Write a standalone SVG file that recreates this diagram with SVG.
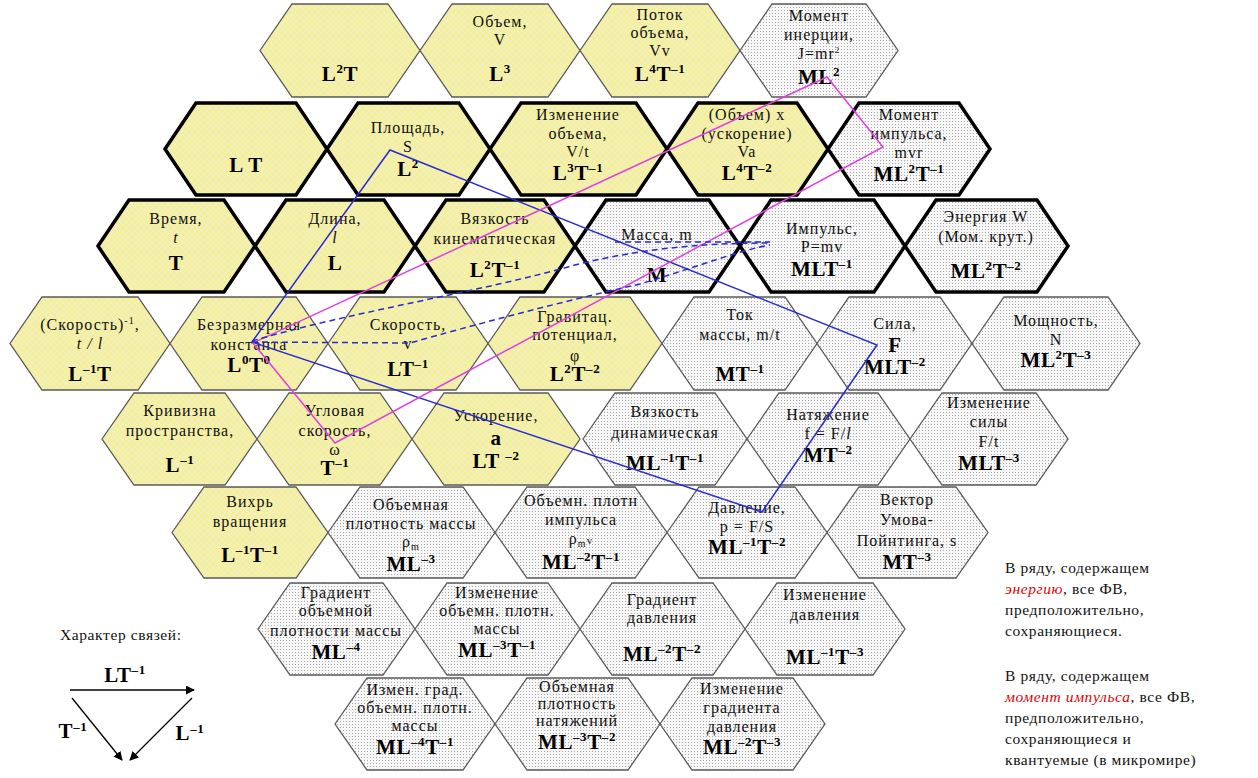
<svg xmlns="http://www.w3.org/2000/svg" width="1258" height="778" viewBox="0 0 1258 778">
<style>
.y{fill:url(#hatch);stroke:#5a5a5a;stroke-width:1.3}
.d{fill:url(#dots);stroke:#5a5a5a;stroke-width:1.3}
.yk{fill:url(#hatch);stroke:#000;stroke-width:3.5}
.dk{fill:url(#dots);stroke:#000;stroke-width:3.5}
.t{font-family:"Liberation Serif",serif;font-size:16px;text-anchor:middle;fill:#111;letter-spacing:1px}
.i{font-style:italic}
.f{font-family:"Liberation Serif",serif;font-weight:bold;font-size:21px;text-anchor:middle;fill:#000;letter-spacing:0.6px}
.s{font-size:13px}
.r{font-family:"Liberation Serif",serif;font-size:15.5px;fill:#111;letter-spacing:0.6px}
.red{fill:#e00000;font-style:italic}
.bl{fill:none;stroke:#2a2ad0;stroke-width:1.5}
.bd{fill:none;stroke:#2a2ad0;stroke-width:1.5;stroke-dasharray:6 4}
.mg{fill:none;stroke:#e040e0;stroke-width:1.5}
.ar{fill:none;stroke:#000;stroke-width:1.3;marker-end:url(#ah)}
</style>
<defs>
<pattern id="hatch" width="6" height="6" patternUnits="userSpaceOnUse">
<rect width="6" height="6" fill="#f6f18e"/>
<path d="M0,0 L6,6 M6,0 L0,6" stroke="#ececdf" stroke-width="1"/>
</pattern>
<pattern id="dots" width="3" height="3" patternUnits="userSpaceOnUse">
<rect width="3" height="3" fill="#f7f7f7"/>
<rect x="1" y="1" width="1" height="1" fill="#a8a8a8"/>
</pattern>
<marker id="ah" viewBox="0 0 10 10" refX="9" refY="5" markerWidth="9" markerHeight="9" orient="auto" markerUnits="userSpaceOnUse">
<path d="M0,0 L10,5 L0,10 Z" fill="#000"/>
</marker>
</defs>
<rect width="1258" height="778" fill="#fff"/>

<!-- Row 1 -->
<g id="h-L2T"><polygon class="y" points="260,50.5 292,4 388,4 420,50.5 388,97 292,97"/>
<text class="f" x="340" y="81">L<tspan class="s" dy="-8">2</tspan><tspan dy="8">T</tspan></text></g>
<g id="h-volume"><polygon class="y" points="420,50.5 452,4 548,4 580,50.5 548,97 452,97"/>
<text class="t" x="500" y="27">Объем,</text><text class="t" x="500" y="45">V</text>
<text class="f" x="500" y="81">L<tspan class="s" dy="-8">3</tspan></text></g>
<g id="h-flow"><polygon class="y" points="580,50.5 612,4 708,4 740,50.5 708,97 612,97"/>
<text class="t" x="660" y="20">Поток</text><text class="t" x="660" y="38">объема,</text><text class="t" x="660" y="56">Vv</text>
<text class="f" x="660" y="81">L<tspan class="s" dy="-8">4</tspan><tspan dy="8">T</tspan><tspan class="s" dy="-8">–1</tspan></text></g>
<g id="h-inertia"><polygon class="d" points="740,50.5 772,4 866,4 898,50.5 866,97 772,97"/>
<text class="t" x="819" y="21">Момент</text><text class="t" x="819" y="40">инерции,</text>
<text class="t" x="819" y="59">J=mr<tspan font-size="9" dy="-6">2</tspan></text>
<text class="f" x="819" y="84">ML<tspan class="s" dy="-8">2</tspan></text></g>

<!-- Row 2 -->
<g id="h-LT"><polygon class="yk" points="165,149 196,103 296,103 327,149 296,195 196,195"/>
<text class="f" x="246" y="172">L T</text></g>
<g id="h-area"><polygon class="yk" points="327,149 358,103 459,103 490,149 459,195 358,195"/>
<text class="t" x="408" y="133">Площадь,</text><text class="t" x="408" y="152">S</text>
<text class="f" x="408" y="176">L<tspan class="s" dy="-8">2</tspan></text></g>
<g id="h-dvol"><polygon class="yk" points="490,149 521,103 636,103 667,149 636,195 521,195"/>
<text class="t" x="578" y="120">Изменение</text><text class="t" x="578" y="139">объема,</text><text class="t" x="578" y="157">V/t</text>
<text class="f" x="578" y="180">L<tspan class="s" dy="-8">3</tspan><tspan dy="8">T</tspan><tspan class="s" dy="-8">–1</tspan></text></g>
<g id="h-va"><polygon class="yk" points="667,149 698,103 797,103 828,149 797,195 698,195"/>
<text class="t" x="747" y="120">(Объем) x</text><text class="t" x="747" y="139">(ускорение)</text><text class="t" x="747" y="157">Va</text>
<text class="f" x="747" y="180">L<tspan class="s" dy="-8">4</tspan><tspan dy="8">T</tspan><tspan class="s" dy="-8">–2</tspan></text></g>
<g id="h-angmom"><polygon class="dk" points="828,149 859,103 959,103 990,149 959,195 859,195"/>
<text class="t" x="909" y="120">Момент</text><text class="t" x="909" y="139">импульса,</text><text class="t" x="909" y="158">mvr</text>
<text class="f" x="909" y="181">ML<tspan class="s" dy="-8">2</tspan><tspan dy="8">T</tspan><tspan class="s" dy="-8">–1</tspan></text></g>

<!-- Row 3 -->
<g id="h-time"><polygon class="yk" points="98,246 129,200 224,200 255,246 224,292 129,292"/>
<text class="t" x="176" y="224">Время,</text><text class="t i" x="176" y="243">t</text>
<text class="f" x="176" y="270">T</text></g>
<g id="h-length"><polygon class="yk" points="255,246 286,200 384,200 415,246 384,292 286,292"/>
<text class="t" x="335" y="224">Длина,</text><text class="t i" x="335" y="243">l</text>
<text class="f" x="335" y="270">L</text></g>
<g id="h-kinvisc"><polygon class="yk" points="415,246 446,200 544,200 575,246 544,292 446,292"/>
<text class="t" x="495" y="224">Вязкость</text><text class="t" x="495" y="244">кинематическая</text>
<text class="f" x="495" y="277">L<tspan class="s" dy="-8">2</tspan><tspan dy="8">T</tspan><tspan class="s" dy="-8">–1</tspan></text></g>
<g id="h-mass"><polygon class="dk" points="575,246 606,200 709,200 740,246 709,292 606,292"/>
<text class="t" x="657" y="240">Масса, m</text>
<text class="f" x="657" y="282">M</text></g>
<g id="h-momentum"><polygon class="dk" points="740,246 771,200 874,200 905,246 874,292 771,292"/>
<text class="t" x="822" y="234">Импульс,</text><text class="t" x="822" y="252">P=mv</text>
<text class="f" x="822" y="276">MLT<tspan class="s" dy="-8">–1</tspan></text></g>
<g id="h-energy"><polygon class="dk" points="905,246 936,200 1037,200 1068,246 1037,292 936,292"/>
<text class="t" x="986" y="222">Энергия W</text><text class="t" x="986" y="242">(Мом. крут.)</text>
<text class="f" x="986" y="278">ML<tspan class="s" dy="-8">2</tspan><tspan dy="8">T</tspan><tspan class="s" dy="-8">–2</tspan></text></g>

<!-- Row 4 -->
<g id="h-invspeed"><polygon class="y" points="10,343.5 42,297 138,297 170,343.5 138,390 42,390"/>
<text class="t" x="90" y="330">(Скорость)<tspan font-size="10" dy="-6">-1</tspan><tspan dy="6">,</tspan></text>
<text class="t i" x="90" y="349">t / l</text>
<text class="f" x="90" y="381">L<tspan class="s" dy="-8">–1</tspan><tspan dy="8">T</tspan></text></g>
<g id="h-dimless"><polygon class="y" points="170,343.5 202,297 296,297 328,343.5 296,390 202,390"/>
<text class="t" x="249" y="330">Безразмерная</text><text class="t" x="249" y="350">константа</text>
<text class="f" x="249" y="372">L<tspan class="s" dy="-8">0</tspan><tspan dy="8">T</tspan><tspan class="s" dy="-8">0</tspan></text></g>
<g id="h-speed"><polygon class="y" points="328,343.5 360,297 456,297 488,343.5 456,390 360,390"/>
<text class="t" x="408" y="330">Скорость,</text><text class="t" x="408" y="349">v</text>
<text class="f" x="408" y="376">LT<tspan class="s" dy="-8">–1</tspan></text></g>
<g id="h-gravpot"><polygon class="y" points="488,343.5 520,297 630,297 662,343.5 630,390 520,390"/>
<text class="t" x="575" y="322">Гравитац.</text><text class="t" x="575" y="340">потенциал,</text><text class="t" x="575" y="361">φ</text>
<text class="f" x="575" y="381">L<tspan class="s" dy="-8">2</tspan><tspan dy="8">T</tspan><tspan class="s" dy="-8">–2</tspan></text></g>
<g id="h-massflow"><polygon class="d" points="662,343.5 694,297 785,297 817,343.5 785,390 694,390"/>
<text class="t" x="740" y="320">Ток</text><text class="t" x="740" y="340">массы, m/t</text>
<text class="f" x="740" y="381">MT<tspan class="s" dy="-8">–1</tspan></text></g>
<g id="h-force"><polygon class="d" points="817,343.5 849,297 940,297 972,343.5 940,390 849,390"/>
<text class="t" x="895" y="329">Сила,</text><text class="f" x="895" y="352" font-size="19">F</text>
<text class="f" x="895" y="374">MLT<tspan class="s" dy="-8">–2</tspan></text></g>
<g id="h-power"><polygon class="d" points="972,343.5 1004,297 1108,297 1140,343.5 1108,390 1004,390"/>
<text class="t" x="1056" y="326">Мощность,</text><text class="t" x="1056" y="345">N</text>
<text class="f" x="1056" y="367">ML<tspan class="s" dy="-8">2</tspan><tspan dy="8">T</tspan><tspan class="s" dy="-8">–3</tspan></text></g>

<!-- Row 5 -->
<g id="h-curv"><polygon class="y" points="102,439 134,393 225,393 257,439 225,485 134,485"/>
<text class="t" x="180" y="416">Кривизна</text><text class="t" x="180" y="436">пространства,</text>
<text class="f" x="180" y="472">L<tspan class="s" dy="-8">–1</tspan></text></g>
<g id="h-angvel"><polygon class="y" points="257,439 289,393 380,393 412,439 380,485 289,485"/>
<text class="t" x="335" y="416">Угловая</text><text class="t" x="335" y="436">скорость,</text><text class="t" x="335" y="455">ω</text>
<text class="f" x="335" y="475">T<tspan class="s" dy="-8">–1</tspan></text></g>
<g id="h-accel"><polygon class="y" points="412,439 444,393 548,393 580,439 548,485 444,485"/>
<text class="t" x="496" y="421">Ускорение,</text><text class="f" x="496" y="445" font-size="18">a</text>
<text class="f" x="496" y="468">LT <tspan class="s" dy="-8">–2</tspan></text></g>
<g id="h-dynvisc"><polygon class="d" points="583,439 615,393 715,393 747,439 715,485 615,485"/>
<text class="t" x="665" y="417">Вязкость</text><text class="t" x="665" y="438">динамическая</text>
<text class="f" x="665" y="470">ML<tspan class="s" dy="-8">–1</tspan><tspan dy="8">T</tspan><tspan class="s" dy="-8">–1</tspan></text></g>
<g id="h-tension"><polygon class="d" points="747,439 779,393 878,393 910,439 878,485 779,485"/>
<text class="t" x="828" y="420">Натяжение</text><text class="t" x="828" y="439">f = F/<tspan class="i">l</tspan></text>
<text class="f" x="828" y="462">MT<tspan class="s" dy="-8">–2</tspan></text></g>
<g id="h-dforce"><polygon class="d" points="910,439 942,393 1036,393 1068,439 1036,485 942,485"/>
<text class="t" x="989" y="408">Изменение</text><text class="t" x="989" y="427">силы</text><text class="t" x="989" y="447">F/t</text>
<text class="f" x="989" y="470">MLT<tspan class="s" dy="-8">–3</tspan></text></g>

<!-- Row 6 -->
<g id="h-vortex"><polygon class="y" points="172,532.5 204,487 296,487 328,532.5 296,578 204,578"/>
<text class="t" x="250" y="507">Вихрь</text><text class="t" x="250" y="527">вращения</text>
<text class="f" x="250" y="562">L<tspan class="s" dy="-8">–1</tspan><tspan dy="8">T</tspan><tspan class="s" dy="-8">–1</tspan></text></g>
<g id="h-density"><polygon class="d" points="328,532.5 360,487 463,487 495,532.5 463,578 360,578"/>
<text class="t" x="411" y="510">Объемная</text><text class="t" x="411" y="529">плотность массы</text>
<text class="t" x="411" y="547">ρ<tspan font-size="10" dy="3">m</tspan></text>
<text class="f" x="411" y="571">ML<tspan class="s" dy="-8">–3</tspan></text></g>
<g id="h-momdens"><polygon class="d" points="495,532.5 527,487 635,487 667,532.5 635,578 527,578"/>
<text class="t" x="581" y="506">Объемн. плотн</text><text class="t" x="581" y="525">импульса</text>
<text class="t" x="581" y="544">ρ<tspan font-size="10" dy="3">m</tspan><tspan font-size="11" dy="-3">v</tspan></text>
<text class="f" x="581" y="569">ML<tspan class="s" dy="-8">–2</tspan><tspan dy="8">T</tspan><tspan class="s" dy="-8">–1</tspan></text></g>
<g id="h-pressure"><polygon class="d" points="667,532.5 699,487 795,487 827,532.5 795,578 699,578"/>
<text class="t" x="747" y="513">Давление,</text><text class="t" x="747" y="532">p = F/S</text>
<text class="f" x="747" y="554">ML<tspan class="s" dy="-8">–1</tspan><tspan dy="8">T</tspan><tspan class="s" dy="-8">–2</tspan></text></g>
<g id="h-umov"><polygon class="d" points="827,532.5 859,487 956,487 988,532.5 956,578 859,578"/>
<text class="t" x="907" y="505">Вектор</text><text class="t" x="907" y="525">Умова-</text><text class="t" x="907" y="546">Пойнтинга, s</text>
<text class="f" x="907" y="569">MT<tspan class="s" dy="-8">–3</tspan></text></g>

<!-- Row 7 -->
<g id="h-graddens"><polygon class="d" points="258,629 290,583 383,583 415,629 383,675 290,675"/>
<text class="t" x="336" y="598">Градиент</text><text class="t" x="336" y="616">объемной</text><text class="t" x="336" y="636">плотности массы</text>
<text class="f" x="336" y="659">ML<tspan class="s" dy="-8">–4</tspan></text></g>
<g id="h-ddens"><polygon class="d" points="415,629 447,583 548,583 580,629 548,675 447,675"/>
<text class="t" x="497" y="598">Изменение</text><text class="t" x="497" y="616">объемн. плотн.</text><text class="t" x="497" y="634">массы</text>
<text class="f" x="497" y="657">ML<tspan class="s" dy="-8">–3</tspan><tspan dy="8">T</tspan><tspan class="s" dy="-8">–1</tspan></text></g>
<g id="h-gradp"><polygon class="d" points="580,629 612,583 713,583 745,629 713,675 612,675"/>
<text class="t" x="662" y="605">Градиент</text><text class="t" x="662" y="623">давления</text>
<text class="f" x="662" y="661">ML<tspan class="s" dy="-8">–2</tspan><tspan dy="8">T</tspan><tspan class="s" dy="-8">–2</tspan></text></g>
<g id="h-dp"><polygon class="d" points="745,629 777,583 873,583 905,629 873,675 777,675"/>
<text class="t" x="825" y="600">Изменение</text><text class="t" x="825" y="620">давления</text>
<text class="f" x="825" y="664">ML<tspan class="s" dy="-8">–1</tspan><tspan dy="8">T</tspan><tspan class="s" dy="-8">–3</tspan></text></g>

<!-- Row 8 -->
<g id="h-dgraddens"><polygon class="d" points="335,724 367,678 463,678 495,724 463,770 367,770"/>
<text class="t" x="415" y="695">Измен. град.</text><text class="t" x="415" y="713">объемн. плотн.</text><text class="t" x="415" y="731">массы</text>
<text class="f" x="415" y="754">ML<tspan class="s" dy="-8">–4</tspan><tspan dy="8">T</tspan><tspan class="s" dy="-8">–1</tspan></text></g>
<g id="h-tensdens"><polygon class="d" points="495,724 527,678 628,678 660,724 628,770 527,770"/>
<text class="t" x="577" y="692">Объемная</text><text class="t" x="577" y="709">плотность</text><text class="t" x="577" y="726">натяжений</text>
<text class="f" x="577" y="749">ML<tspan class="s" dy="-8">–3</tspan><tspan dy="8">T</tspan><tspan class="s" dy="-8">–2</tspan></text></g>
<g id="h-dgradp"><polygon class="d" points="660,724 692,678 793,678 825,724 793,770 692,770"/>
<text class="t" x="742" y="694">Изменение</text><text class="t" x="742" y="713">градиента</text><text class="t" x="742" y="732">давления</text>
<text class="f" x="742" y="754">ML<tspan class="s" dy="-8">–2</tspan><tspan dy="8">T</tspan><tspan class="s" dy="-8">–3</tspan></text></g>

<!-- Connectors -->
<g id="connectors">
<polygon class="bl" points="252,342 390,150 877,345 762,512"/>
<polygon class="mg" points="253,343 827,77 883,147 335,443"/>
<path class="bd" d="M252,341 C350,312 480,292 575,265 C650,246 720,243 770,243"/>
<path class="bd" d="M252,342 L410,343 C470,326 560,302 640,284 C700,266 740,250 770,245"/>
<path class="bd" d="M615,242 L770,242"/>
</g>

<!-- Legend -->
<g id="legend">
<text class="r" x="60" y="640">Характер связей:</text>
<text class="f" x="125" y="682">LT<tspan class="s" dy="-8">–1</tspan></text>
<line class="ar" x1="70" y1="690" x2="194" y2="690"/>
<line class="ar" x1="72" y1="698" x2="122" y2="760"/>
<line class="ar" x1="192" y1="698" x2="130" y2="760"/>
<text class="f" x="73" y="738" font-size="17">T<tspan class="s" dy="-7">–1</tspan></text>
<text class="f" x="190" y="740" font-size="17">L<tspan class="s" dy="-7">–1</tspan></text>
</g>

<!-- Notes -->
<g id="notes">
<text class="r" x="1005" y="573">В ряду, содержащем</text>
<text class="r" x="1005" y="594"><tspan class="red">энергию</tspan>, все ФВ,</text>
<text class="r" x="1005" y="615">предположительно,</text>
<text class="r" x="1005" y="636">сохраняющиеся.</text>
<text class="r" x="1005" y="681">В ряду, содержащем</text>
<text class="r" x="1005" y="702"><tspan class="red">момент импульса</tspan>, все ФВ,</text>
<text class="r" x="1005" y="723">предположительно,</text>
<text class="r" x="1005" y="744">сохраняющиеся и</text>
<text class="r" x="1005" y="765">квантуемые (в микромире)</text>
</g>
</svg>
